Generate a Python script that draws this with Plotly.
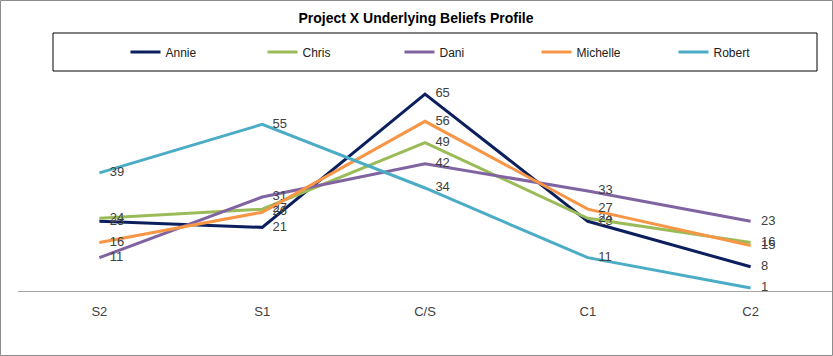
import plotly.graph_objects as go

categories = ["S2", "S1", "C/S", "C1", "C2"]
annie = [23, 21, 65, 23, 8]
chris = [24, 27, 49, 24, 16]
dani = [11, 31, 42, 33, 23]
michelle = [16, 26, 56, 27, 15]
robert = [39, 55, 34, 11, 1]

series = [
    ("Annie", annie, "#0B1F5E"),
    ("Chris", chris, "#9BBB59"),
    ("Dani", dani, "#8064A2"),
    ("Michelle", michelle, "#F79646"),
    ("Robert", robert, "#4BACC6"),
]

FONT = "Liberation Sans Narrow, Liberation Sans, Arial"

fig = go.Figure()
for name, vals, color in series:
    fig.add_trace(go.Scatter(
        x=categories, y=vals, name=name, mode="lines+markers+text",
        line=dict(color=color, width=3),
        marker=dict(size=15, color="rgba(0,0,0,0)", line=dict(width=0)),
        text=[str(v) for v in vals], textposition="middle right",
        textfont=dict(family=FONT, size=13, color="#404040"),
        cliponaxis=False,
    ))

W, H = 833, 356
L, R, T, B = 18, 1, 79, 65
plot_w = W - L - R
plot_h = H - T - B
px_per_unit = 3.03

def px_x(p):
    return (p - L) / plot_w

def px_y(p):
    return (H - B - p) / plot_h

fig.update_layout(
    width=W, height=H,
    margin=dict(l=L, r=R, t=T, b=B, autoexpand=False),
    paper_bgcolor="white", plot_bgcolor="white",
    title=dict(text="<b>Project X Underlying Beliefs Profile</b>", x=px_x(416), xref="paper",
               xanchor="center", y=1 - 18 / H, yanchor="middle",
               font=dict(family=FONT, size=14, color="black")),
    showlegend=True,
    legend=dict(orientation="h", x=px_x(468), xanchor="center", y=px_y(52), yanchor="middle",
                font=dict(family=FONT, size=12, color="#202020"),
                entrywidth=92, entrywidthmode="pixels",
                bgcolor="rgba(0,0,0,0)", borderwidth=0, itemwidth=30),
    xaxis=dict(type="category", range=[-0.5, 4.5], showgrid=False, zeroline=False,
               showline=True, linecolor="#A6A6A6", linewidth=1,
               ticks="outside", ticklen=8, tickcolor="rgba(0,0,0,0)",
               tickfont=dict(family=FONT, size=13, color="#404040")),
    yaxis=dict(range=[0, plot_h / px_per_unit], visible=False, showgrid=False, zeroline=False),
    shapes=[
        dict(type="rect", xref="paper", yref="paper",
             x0=px_x(53), x1=px_x(817), y0=px_y(71), y1=px_y(33),
             line=dict(color="black", width=1)),
        dict(type="rect", xref="paper", yref="paper",
             x0=px_x(0.5), x1=px_x(832.5), y0=px_y(355.5), y1=px_y(0.5),
             line=dict(color="#8C8C8C", width=1)),
    ],
)

fig.write_html("out.html", config={"displayModeBar": False},
               post_script="document.body.style.margin='0';document.body.style.overflow='hidden';")
